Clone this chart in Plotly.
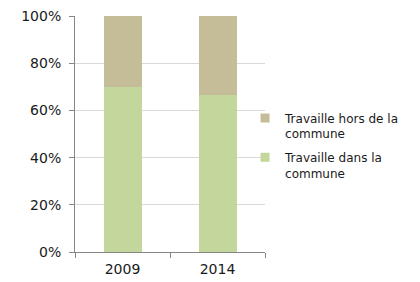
import plotly.graph_objects as go

years = ["2009", "2014"]
dans = [0.70, 0.665]
hors = [0.30, 0.335]
names = ["Travaille dans la<br>commune", "Travaille hors de la<br>commune"]
colors = ["#C3D69B", "#C4BD97"]

fig = go.Figure()
fig.add_trace(go.Bar(x=years, y=dans, name=names[0], marker_color=colors[0],
                     marker_line_width=0, width=0.4, showlegend=False))
fig.add_trace(go.Bar(x=years, y=hors, name=names[1], marker_color=colors[1],
                     marker_line_width=0, width=0.4, showlegend=False))
# legend entries (small squares), top entry first
for i in (1, 0):
    fig.add_trace(go.Scatter(x=[None], y=[None], mode="markers", name=names[i],
                             legendgroup=f"g{i}", hoverinfo="skip",
                             marker=dict(symbol="square", size=9, color=colors[i])))

fig.update_layout(
    barmode="stack",
    width=420, height=282,
    margin=dict(l=75, r=155, t=16, b=30, autoexpand=False),
    plot_bgcolor="white", paper_bgcolor="white",
    font=dict(family="DejaVu Sans", size=14, color="#1a1a1a"),
    legend=dict(x=0.895, y=0.45, xanchor="left", yanchor="middle", traceorder="grouped",
                font=dict(size=12), itemwidth=30, tracegroupgap=5, valign="top",
                bgcolor="rgba(0,0,0,0)"),
    showlegend=True,
)
fig.update_yaxes(range=[0, 1], tickformat=".0%", dtick=0.2, showgrid=True, gridcolor="#d9d9d9",
                 showline=True, linecolor="#868686", ticks="outside", ticklen=5, tickcolor="#868686",
                 zeroline=False, ticklabelstandoff=5)
fig.update_xaxes(showline=True, linecolor="#868686", ticks="outside", ticklen=5, tickcolor="#868686",
                 tickson="boundaries", showgrid=False, ticklabelstandoff=4)
fig.write_html("out.html", config={"displayModeBar": False},
               post_script="document.body.style.margin='0';")
